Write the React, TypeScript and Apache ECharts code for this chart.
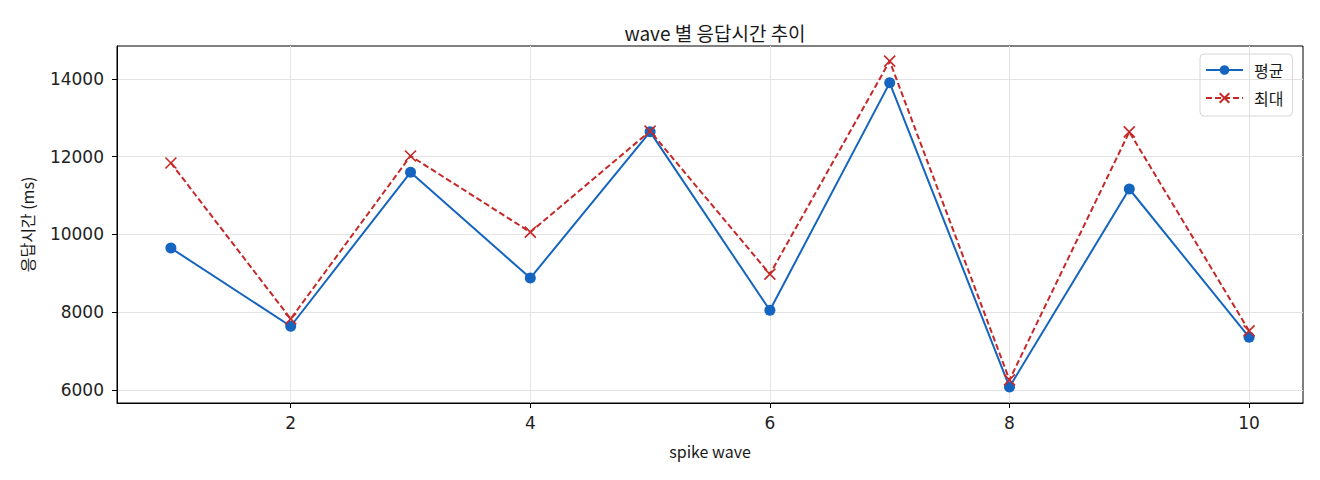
import React, { useEffect, useRef } from 'react';
import * as echarts from 'echarts';

// 데이터
const waves = [1, 2, 3, 4, 5, 6, 7, 8, 9, 10];
const avgValues = [9650, 7640, 11600, 8880, 12640, 8050, 13900, 6080, 11170, 7360];
const maxValues = [11840, 7830, 12020, 10060, 12660, 8980, 14460, 6260, 12640, 7520];
const xTicks = [2, 4, 6, 8, 10];
const yTicks = [6000, 8000, 10000, 12000, 14000];

const FONT = '"Noto Sans CJK KR", "Noto Sans", sans-serif';
const TICK_FONT = '"DejaVu Sans", sans-serif';
const BLUE = '#1565c0';
const RED = '#c62828';

export default function App() {
  const chartRef = useRef<HTMLDivElement>(null);

  useEffect(() => {
    document.body.style.margin = '0';
    const chart = echarts.init(chartRef.current!, null, { renderer: 'svg' });

    const gridLine = { show: true, lineStyle: { color: '#e3e3e3', width: 1 } };

    chart.setOption({
      animation: false,
      title: {
        text: 'wave 별 응답시간 추이',
        left: 710,
        top: 18,
        textAlign: 'center',
        textStyle: { fontFamily: FONT, fontSize: 19, fontWeight: 'normal', color: '#1a1a1a' },
      },
      legend: {
        orient: 'vertical',
        left: 1200,
        top: 54,
        padding: [8, 9, 10, 5],
        itemGap: 12,
        itemWidth: 37,
        itemHeight: 12,
        borderColor: '#d6d6d6',
        borderWidth: 1,
        borderRadius: 4,
        textStyle: { fontFamily: FONT, fontSize: 16, color: '#1a1a1a', padding: [0, 0, 0, 6] },
        data: ['평균', '최대'],
      },
      grid: {
        left: 117,
        top: 46,
        right: 17,
        bottom: 77,
        show: true,
        borderColor: '#000',
        borderWidth: 1,
      },
      xAxis: {
        type: 'value',
        min: 0.55,
        max: 10.45,
        name: 'spike wave',
        nameLocation: 'middle',
        nameGap: 40,
        nameTextStyle: { fontFamily: FONT, fontSize: 16, color: '#1a1a1a' },
        axisLine: { show: true, lineStyle: { color: '#000' } },
        axisTick: { show: true, length: 5, lineStyle: { color: '#000' }, customValues: xTicks },
        axisLabel: {
          fontFamily: TICK_FONT,
          fontSize: 17,
          color: '#222',
          margin: 11,
          customValues: xTicks,
        },
        splitLine: gridLine,
      },
      yAxis: {
        type: 'value',
        min: 5666,
        max: 14848,
        name: '응답시간 (ms)',
        nameLocation: 'middle',
        nameGap: 82,
        nameTextStyle: { fontFamily: FONT, fontSize: 16, color: '#1a1a1a' },
        axisLine: { show: true, lineStyle: { color: '#000' } },
        axisTick: { show: true, length: 5, lineStyle: { color: '#000' }, customValues: yTicks },
        axisLabel: {
          fontFamily: TICK_FONT,
          fontSize: 17,
          color: '#222',
          margin: 13,
          customValues: yTicks,
          formatter: (v: number) => String(v),
        },
        splitLine: gridLine,
      },
      series: [
        {
          name: '평균',
          type: 'line',
          data: waves.map((w, i) => [w, avgValues[i]]),
          symbol: 'circle',
          symbolSize: 11,
          lineStyle: { color: BLUE, width: 2 },
          itemStyle: { color: BLUE },
        },
        {
          name: '최대',
          type: 'line',
          data: waves.map((w, i) => [w, maxValues[i]]),
          symbol: 'path://M0,0L10,10M10,0L0,10',
          symbolSize: 11,
          lineStyle: { color: RED, width: 2, type: [6, 3] },
          itemStyle: { color: RED, borderColor: RED, borderWidth: 1.6 },
        },
      ],
    });

    return () => {
      chart.dispose();
    };
  }, []);

  return <div ref={chartRef} style={{ width: '1320px', height: '480px' }} />;
}
